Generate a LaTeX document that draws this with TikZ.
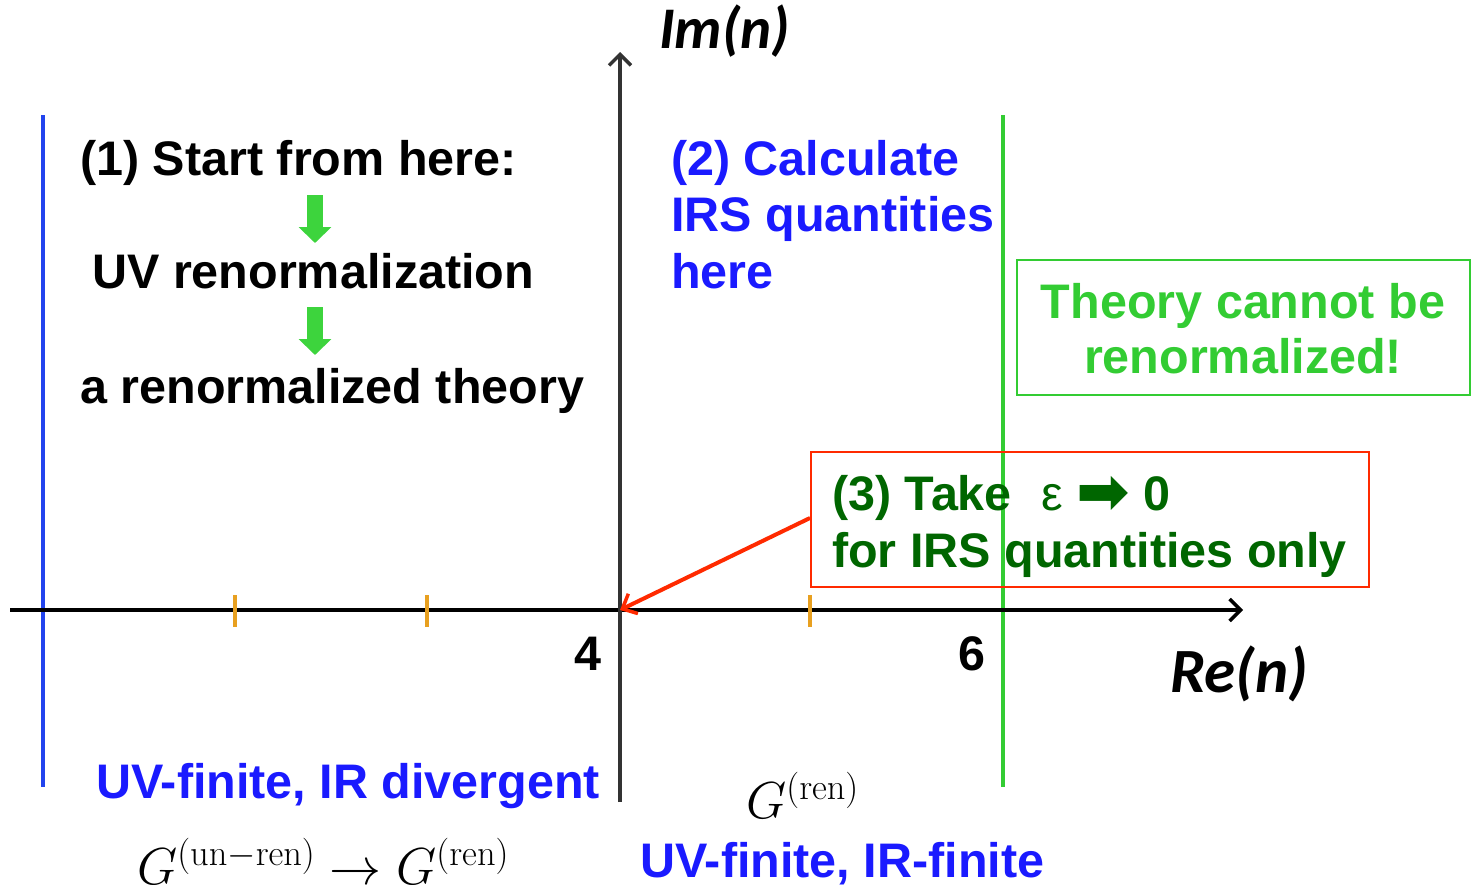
\RequirePackage{fix-cm}
\documentclass[tikz,border=0pt]{standalone}
\usepackage[no-math]{fontspec}
\setmainfont{Liberation Sans}
\newfontfamily\calib{Carlito}
\newfontfamily\dvs{DejaVu Sans}
\usetikzlibrary{arrows.meta}
\definecolor{ablue}{HTML}{1A1AFF}
\definecolor{lblue}{HTML}{2244EE}
\definecolor{lgreen}{HTML}{33CC33}
\definecolor{agreen}{HTML}{3DD43D}
\definecolor{dgreen}{HTML}{006600}
\definecolor{ared}{HTML}{FF2A00}
\definecolor{aorange}{HTML}{E8A020}
\definecolor{axgray}{HTML}{333333}
\tikzset{
  big/.style={font=\fontsize{48.5}{52}\selectfont\bfseries, inner sep=0pt, anchor=base west},
  axlabel/.style={font=\fontsize{59}{60}\calib\bfseries\itshape, inner sep=0pt, anchor=base west},
  tick/.style={aorange, line width=3.5pt},
  blockarrow/.style={agreen, line width=16pt, -{Triangle[width=32pt,length=16pt]}},
  mathlbl/.style={font=\fontsize{52}{56}\selectfont, inner sep=0pt, anchor=base west}
}
\begin{document}
\begin{tikzpicture}[x=1pt,y=-1pt]
\useasboundingbox (0,0) rectangle (1472,884);
% vertical region lines
\draw[lblue, line width=4pt] (43,115) coordinate (b1) -- (43,787) coordinate (b2);
\draw[lgreen, line width=4pt] (1003,115) coordinate (g1) -- (1003,787) coordinate (g2);
% axes
\coordinate (xs) at (10,610);
\coordinate (xe) at (1243,610);
\coordinate (ys) at (620,802);
\coordinate (ye) at (620,52);
\draw[black, line width=4.5pt, -{Straight Barb[length=11pt,width=22pt,line width=3.5pt]}] (xs) -- (xe);
\draw[axgray, line width=4.5pt, -{Straight Barb[length=11pt,width=22pt,line width=3.5pt]}] (ys) -- (ye);
\coordinate (O) at (620,610);
% ticks
\foreach \x/\n in {235/t1,427/t2,810/t3}{
  \draw[tick] (\x,595) coordinate (\n a) -- (\x,627) coordinate (\n b);
}
% axis labels
\node[axlabel] (im) at (659,48) {Im(n)};
\node[axlabel, font=\fontsize{63}{64}\calib\bfseries\itshape] (re) at (1170,692) {Re(n)};
\node[big, anchor=base] (four) at (588,670) {4};
\node[big, anchor=base] (six) at (972,670) {6};
% left text
\node[big] (t1) at (80,175) {(1) Start from here:};
\node[big] (t2) at (92,288) {UV renormalization};
\node[big] (t3) at (80,403) {a renormalized theory};
\coordinate (a1s) at (315,195);
\coordinate (a1e) at (315,243);
\coordinate (a2s) at (315,307);
\coordinate (a2e) at (315,355);
\draw[blockarrow] (a1s) -- (a1e);
\draw[blockarrow] (a2s) -- (a2e);
% blue text (2)
\node[big, text=ablue] (c1) at (671,175) {(2) Calculate};
\node[big, text=ablue] (c2) at (671,231) {IRS quantities};
\node[big, text=ablue] (c3) at (671,288) {here};
% green box
\node[draw=lgreen, line width=1.8pt, minimum width=453pt, minimum height=135pt, inner sep=0pt, anchor=north west] (gbox) at (1016,259) {};
\node[big, anchor=base, text=lgreen] (gt1) at (1243,318) {Theory cannot be};
\node[big, anchor=base, text=lgreen] (gt2) at (1243,373) {renormalized!};
% red box
\node[draw=ared, line width=1.8pt, minimum width=558pt, minimum height=135pt, inner sep=0pt, anchor=north west] (rbox) at (810,451) {};
\node[big, text=dgreen] (r1) at (832,510) {(3) Take \,\,{\mdseries ε} {\dvs\fontsize{64}{64}\selectfont\raisebox{-3pt}{➡}} 0};
\node[big, text=dgreen] (r2) at (832,567) {for IRS quantities only};
\draw[ared, line width=4pt, -{Straight Barb[length=12pt,width=22pt,line width=3.5pt]}] (rbox.west |- 0,518) -- (O);
% bottom labels
\node[big, text=ablue] (uvir) at (96,798) {UV-finite, IR divergent};
\node[big, text=ablue] (uvf) at (640,877) {UV-finite, IR-finite};
\node[mathlbl] (g1) at (746,818) {$G^{(\mathrm{ren})}$};
\node[mathlbl] (g2) at (137,884) {$G^{(\mathrm{un-ren})}\rightarrow G^{(\mathrm{ren})}$};
\end{tikzpicture}
\end{document}
